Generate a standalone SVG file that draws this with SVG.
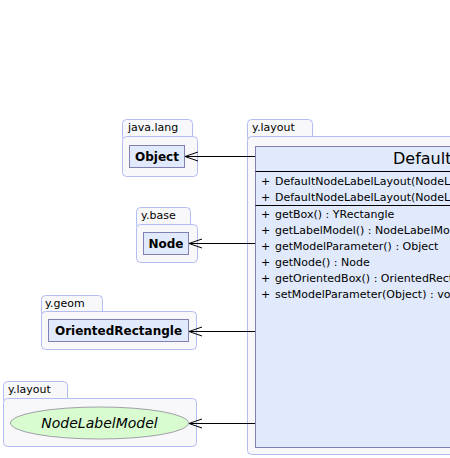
<svg xmlns="http://www.w3.org/2000/svg" width="450" height="458" viewBox="0 0 450 458">
<defs>
<style>
.pk{fill:#f8f8fa;stroke:#b4bcf4;stroke-width:1}
.pl{font-family:"DejaVu Sans",sans-serif;font-size:11px;fill:#000}
.cb{fill:#e0eafc;stroke:#8080b4;stroke-width:1}
.cn{font-family:"DejaVu Sans",sans-serif;font-size:12px;font-weight:bold;fill:#000;text-anchor:middle}
.mb{font-family:"DejaVu Sans",sans-serif;font-size:11px;fill:#000}
.ln{stroke:#000;stroke-width:1;fill:none}
</style>
<marker id="open" markerWidth="16" markerHeight="12" refX="15" refY="6" orient="auto" markerUnits="userSpaceOnUse">
<path d="M2,1.5 L15,6 L2,10.5" fill="none" stroke="#000" stroke-width="1"/>
</marker>
</defs>
<rect width="450" height="458" fill="#fff"/>

<g id="pkg-main">
<rect class="pk" x="247.5" y="119.5" width="65" height="22" rx="4"/>
<rect class="pk" x="247.5" y="136.5" width="220" height="318" rx="4"/>
<text class="pl" x="252" y="131">y.layout</text>
</g>
<g id="DefaultNodeLabelLayout">
<rect class="cb" x="255.5" y="146.5" width="220" height="301"/>
<line x1="255.5" y1="171.5" x2="475" y2="171.5" stroke="#000" stroke-width="1"/>
<line x1="255.5" y1="205.5" x2="475" y2="205.5" stroke="#000" stroke-width="1"/>
<text x="393" y="164" font-family="DejaVu Sans, sans-serif" font-size="16px" fill="#000">DefaultNodeLabelLayout</text>
<g class="mb">
<text x="261" y="185">+</text><text x="275" y="185">DefaultNodeLabelLayout(NodeLabelModel, Object, OrientedRectangle)</text>
<text x="261" y="201">+</text><text x="275" y="201">DefaultNodeLabelLayout(NodeLabelModel, Object, Node)</text>
<text x="261" y="218">+</text><text x="275" y="218">getBox() : YRectangle</text>
<text x="261" y="234">+</text><text x="275" y="234">getLabelModel() : NodeLabelModel</text>
<text x="261" y="250">+</text><text x="275" y="250">getModelParameter() : Object</text>
<text x="261" y="266">+</text><text x="275" y="266">getNode() : Node</text>
<text x="261" y="282">+</text><text x="275" y="282">getOrientedBox() : OrientedRectangle</text>
<text x="261" y="298">+</text><text x="275" y="298">setModelParameter(Object) : void</text>
</g>
</g>

<g id="pkg-java-lang">
<rect class="pk" x="122.5" y="119.5" width="70" height="22" rx="4"/>
<rect class="pk" x="122.5" y="136.5" width="75" height="40" rx="4"/>
<text class="pl" x="128" y="131">java.lang</text>
</g>
<g id="Object">
<rect class="cb" x="129.5" y="145.5" width="55" height="22"/>
<text class="cn" x="157" y="161">Object</text>
</g>

<g id="pkg-y-base">
<rect class="pk" x="136.5" y="207.5" width="54" height="22" rx="4"/>
<rect class="pk" x="136.5" y="224.5" width="61" height="38" rx="4"/>
<text class="pl" x="141" y="219">y.base</text>
</g>
<g id="Node">
<rect class="cb" x="143.5" y="232.5" width="45" height="22"/>
<text class="cn" x="166" y="248">Node</text>
</g>

<g id="pkg-y-geom">
<rect class="pk" x="41.5" y="295.5" width="61" height="22" rx="4"/>
<rect class="pk" x="41.5" y="311.5" width="155" height="38" rx="4"/>
<text class="pl" x="45" y="307">y.geom</text>
</g>
<g id="OrientedRectangle">
<rect class="cb" x="48.5" y="319.5" width="140" height="22"/>
<text class="cn" x="118.5" y="335">OrientedRectangle</text>
</g>

<g id="pkg-y-layout">
<rect class="pk" x="3.5" y="381.5" width="64" height="22" rx="4"/>
<rect class="pk" x="3.5" y="398.5" width="193" height="48" rx="4"/>
<text class="pl" x="8" y="393">y.layout</text>
</g>
<g id="NodeLabelModel">
<ellipse cx="99.5" cy="423" rx="89" ry="16" fill="#d8fcd0" stroke="#a0a0a8" stroke-width="1"/>
<text x="99.5" y="428" text-anchor="middle" font-family="DejaVu Sans, sans-serif" font-size="14px" font-style="italic" fill="#000">NodeLabelModel</text>
</g>

<g id="connectors">
<line class="ln" x1="255" y1="156.5" x2="185" y2="156.5" marker-end="url(#open)"/>
<line class="ln" x1="255" y1="243.5" x2="189" y2="243.5" marker-end="url(#open)"/>
<line class="ln" x1="255" y1="331.5" x2="189" y2="331.5" marker-end="url(#open)"/>
<line class="ln" x1="255" y1="423.5" x2="189" y2="423.5" marker-end="url(#open)"/>
</g>
</svg>
